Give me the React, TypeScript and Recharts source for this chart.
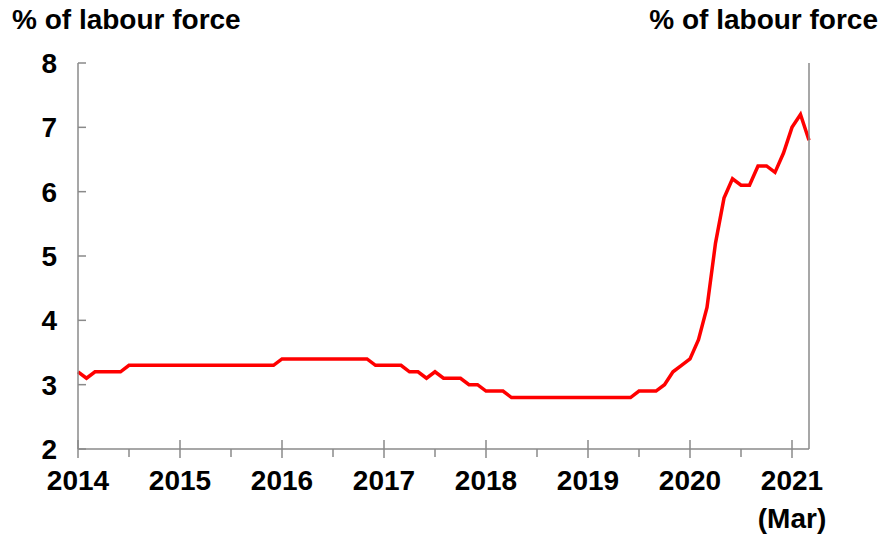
import React from 'react';
import { LineChart, Line, XAxis, YAxis } from 'recharts';

// Monthly, Jan 2014 .. Mar 2021
const unemploymentRate: number[] = [
  3.2, 3.1, 3.2, 3.2, 3.2, 3.2, 3.3, 3.3, 3.3, 3.3, 3.3, 3.3, // 2014
  3.3, 3.3, 3.3, 3.3, 3.3, 3.3, 3.3, 3.3, 3.3, 3.3, 3.3, 3.3, // 2015
  3.4, 3.4, 3.4, 3.4, 3.4, 3.4, 3.4, 3.4, 3.4, 3.4, 3.4, 3.3, // 2016
  3.3, 3.3, 3.3, 3.2, 3.2, 3.1, 3.2, 3.1, 3.1, 3.1, 3.0, 3.0, // 2017
  2.9, 2.9, 2.9, 2.8, 2.8, 2.8, 2.8, 2.8, 2.8, 2.8, 2.8, 2.8, // 2018
  2.8, 2.8, 2.8, 2.8, 2.8, 2.8, 2.9, 2.9, 2.9, 3.0, 3.2, 3.3, // 2019
  3.4, 3.7, 4.2, 5.2, 5.9, 6.2, 6.1, 6.1, 6.4, 6.4, 6.3, 6.6, // 2020
  7.0, 7.2, 6.8, // 2021
];
const yearTicks: number[] = [0, 12, 24, 36, 48, 60, 72, 84];
const yearLabels: string[] = ['2014', '2015', '2016', '2017', '2018', '2019', '2020', '2021'];
const minorTicks: number[] = [6, 18, 30, 42, 54, 66, 78];
const yTicks: number[] = [2, 3, 4, 5, 6, 7, 8];
const axisTitle = '% of labour force';
const lastLabel = '(Mar)';

const data = unemploymentRate.map((v, i) => ({ i, v }));

const FONT = "'Liberation Sans', Arial, sans-serif";
const AXIS = '#8a8a8a';
const TXT = '#000';

const XTick = (props: any) => {
  const { x, y, payload } = props;
  const idx = yearTicks.indexOf(payload.value);
  if (idx < 0) {
    return <line x1={x} x2={x} y1={y} y2={y + 8} stroke={AXIS} strokeWidth={1.5} />;
  }
  return (
    <g>
      <line x1={x} x2={x} y1={y - 9} y2={y + 9} stroke={AXIS} strokeWidth={1.5} />
      <text x={x} y={y + 41} textAnchor="middle" fontFamily={FONT} fontWeight="bold" fontSize={28} fill={TXT}>
        {yearLabels[idx]}
      </text>
      {idx === yearLabels.length - 1 && (
        <text x={x} y={y + 79} textAnchor="middle" fontFamily={FONT} fontWeight="bold" fontSize={28} fill={TXT}>
          {lastLabel}
        </text>
      )}
    </g>
  );
};

const LeftTick = (props: any) => {
  const { x, y, payload } = props;
  return (
    <g>
      <line x1={x} x2={x + 8} y1={y} y2={y} stroke={AXIS} strokeWidth={1.5} />
      <text x={x - 21} y={y} dy={10} textAnchor="end" fontFamily={FONT} fontWeight="bold" fontSize={28} fill={TXT}>
        {payload.value}
      </text>
    </g>
  );
};

const RightTick = (props: any) => {
  const { x, y, payload } = props;
  return (
    <g>
      <line x1={x - 8} x2={x} y1={y} y2={y} stroke={AXIS} strokeWidth={1.5} />
      <text x={x + 23} y={y} dy={10} textAnchor="start" fontFamily={FONT} fontWeight="bold" fontSize={28} fill={TXT}>
        {payload.value}
      </text>
    </g>
  );
};

export default function App() {
  return (
    <div style={{ position: 'absolute', left: 0, top: 0, width: 887, height: 540, background: '#fff' }}>
      <div style={{ position: 'absolute', left: 12, top: 4, fontFamily: FONT, fontWeight: 'bold', fontSize: 28, color: TXT, whiteSpace: 'nowrap' }}>
        {axisTitle}
      </div>
      <div style={{ position: 'absolute', right: 9, top: 4, fontFamily: FONT, fontWeight: 'bold', fontSize: 28, color: TXT, whiteSpace: 'nowrap' }}>
        {axisTitle}
      </div>
      <div style={{ position: 'absolute', left: 0, top: 0 }}>
        <LineChart width={887} height={540} data={data} margin={{ top: 63, right: 0, bottom: 0, left: 0 }}>
          <XAxis
            dataKey="i"
            type="number"
            domain={[0, 86]}
            ticks={[...yearTicks, ...minorTicks].sort((a, b) => a - b)}
            interval={0}
            height={91}
            tickSize={0}
            tickMargin={0}
            tickLine={false}
            axisLine={{ stroke: AXIS, strokeWidth: 1.5 }}
            tick={<XTick />}
          />
          <YAxis
            yAxisId="left"
            orientation="left"
            domain={[2, 8]}
            ticks={yTicks}
            interval={0}
            width={78}
            tickSize={0}
            tickMargin={0}
            tickLine={false}
            axisLine={{ stroke: AXIS, strokeWidth: 1.5 }}
            tick={<LeftTick />}
          />
          <YAxis
            yAxisId="right"
            orientation="right"
            domain={[2, 8]}
            ticks={yTicks}
            interval={0}
            width={78}
            tickSize={0}
            tickMargin={0}
            tickLine={false}
            axisLine={{ stroke: AXIS, strokeWidth: 1.5 }}
            tick={<RightTick />}
          />
          <Line
            yAxisId="left"
            type="linear"
            dataKey="v"
            stroke="#ff0000"
            strokeWidth={3.5}
            dot={false}
            isAnimationActive={false}
          />
        </LineChart>
      </div>
    </div>
  );
}
